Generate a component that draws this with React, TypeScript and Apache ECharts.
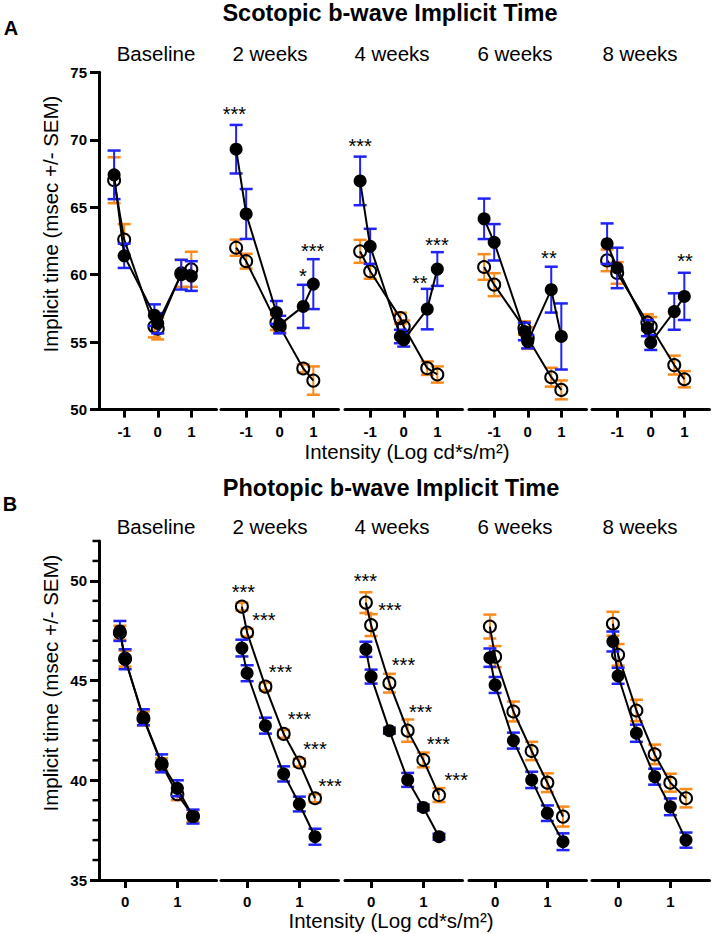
import React, { useEffect, useRef } from 'react';
import * as echarts from 'echarts';

const FONT = '"Liberation Sans", Arial, Helvetica, sans-serif';
const BLUE = '#1f23f5';
const ORANGE = '#f98a1c';

const timepoints = ['Baseline', '2 weeks', '4 weeks', '6 weeks', '8 weeks'];

// Scotopic (panel A)
const scotopicX = [-1.3, -1.0, -0.1, 0, 0.7, 1.0];
const scotopicXTicks = [-1, 0, 1];
const scotopicYTicks = [50, 55, 60, 65, 70, 75];
const scotopicFilledMean = [
  [67.4, 61.4, 57.0, 56.4, 60.0, 59.9],
  [69.3, 64.5, 57.2, 56.3, 57.65, 59.3],
  [66.95, 62.1, 55.42, 55.17, 57.45, 60.42],
  [64.14, 62.4, 55.79, 55.04, 58.89, 55.42],
  [62.3, 60.5, 56.04, 54.97, 57.27, 58.39],
];
const scotopicFilledSem = [
  [1.8, 0.9, 0.8, 0.75, 1.1, 1.1],
  [1.8, 1.85, 0.85, 0.65, 1.6, 1.85],
  [1.8, 1.3, 0.5, 0.5, 1.5, 1.25],
  [1.5, 1.35, 0.65, 0.5, 1.7, 2.45],
  [1.5, 1.5, 0.6, 0.55, 1.35, 1.75],
];
const scotopicOpenMean = [
  [67.0, 62.6, 56.15, 56.0, 60.1, 60.4],
  [62.0, 61.0, 56.45, 56.15, 53.05, 52.15],
  [61.73, 60.25, 56.78, 56.16, 53.07, 52.6],
  [60.57, 59.26, 56.04, 55.3, 52.4, 51.46],
  [61.06, 60.13, 56.46, 56.16, 53.3, 52.25],
];
const scotopicOpenSem = [
  [1.7, 1.15, 0.8, 0.8, 1.0, 1.3],
  [0.6, 0.55, 0.55, 0.4, 0.3, 1.05],
  [0.85, 0.55, 0.4, 0.45, 0.5, 0.6],
  [0.95, 0.85, 0.5, 0.8, 0.7, 0.7],
  [0.8, 0.8, 0.6, 0.7, 0.7, 0.6],
];
// [timepoint index, x, y, text]
const scotopicStars: [number, number, number, string][] = [
  [1, -1.35, 72.26, '***'],
  [1, 0.69, 60.25, '*'],
  [1, 0.98, 62.15, '***'],
  [2, -1.3, 69.88, '***'],
  [2, 0.48, 59.78, '**'],
  [2, 0.99, 62.6, '***'],
  [3, 0.63, 61.6, '**'],
  [4, 1.02, 61.36, '**'],
];

// Photopic (panel B)
const photopicX = [-0.1, 0, 0.35, 0.7, 1.0, 1.3];
const photopicXTicks = [0, 1];
const photopicYTicks = [35, 40, 45, 50];
const photopicYMinorTicks = [36, 37, 38, 39, 41, 42, 43, 44, 46, 47, 48, 49, 51, 52];
const photopicFilledMean = [
  [47.49, 46.07, 43.16, 40.85, 39.6, 38.18],
  [46.63, 45.37, 42.74, 40.32, 38.81, 37.17],
  [46.57, 45.2, 42.49, 40.02, 38.64, 37.17],
  [46.15, 44.78, 41.99, 40.02, 38.35, 36.92],
  [46.96, 45.24, 42.36, 40.18, 38.67, 37.0],
];
const photopicFilledSem = [
  [0.5, 0.5, 0.4, 0.45, 0.4, 0.35],
  [0.42, 0.4, 0.4, 0.38, 0.37, 0.4],
  [0.38, 0.35, 0.15, 0.35, 0.15, 0.15],
  [0.46, 0.4, 0.4, 0.41, 0.39, 0.42],
  [0.5, 0.4, 0.43, 0.4, 0.42, 0.38],
];
const photopicOpenMean = [
  [47.4, 46.1, 43.1, 40.8, 39.3, 38.2],
  [48.71, 47.41, 44.7, 42.33, 40.89, 39.1],
  [48.91, 47.78, 44.87, 42.49, 41.02, 39.26],
  [47.71, 46.2, 43.45, 41.47, 39.88, 38.18],
  [47.85, 46.29, 43.5, 41.3, 39.88, 39.1],
];
const photopicOpenSem = [
  [0.35, 0.4, 0.35, 0.3, 0.3, 0.3],
  [0.2, 0.2, 0.2, 0.2, 0.2, 0.2],
  [0.52, 0.55, 0.47, 0.56, 0.37, 0.35],
  [0.6, 0.53, 0.5, 0.46, 0.47, 0.5],
  [0.6, 0.54, 0.54, 0.49, 0.45, 0.46],
];
const photopicStars: [number, number, number, string][] = [
  [1, -0.07, 49.69, '***'],
  [1, 0.32, 48.3, '***'],
  [1, 0.64, 45.7, '***'],
  [1, 1.0, 43.33, '***'],
  [1, 1.3, 41.82, '***'],
  [1, 1.59, 39.98, '***'],
  [2, -0.11, 50.22, '***'],
  [2, 0.36, 48.8, '***'],
  [2, 0.62, 46.04, '***'],
  [2, 0.95, 43.7, '***'],
  [2, 1.29, 42.06, '***'],
  [2, 1.63, 40.27, '***'],
];

const GRID_LEFTS = [99, 221, 345, 469, 592];
const GRID_WIDTH = 117.5;
const SUBTITLE_X = [156, 270, 392, 515, 640];

function buildGraphicTexts() {
  const txt = (text: string, x: number, y: number, font: string, extra: any = {}) => ({
    type: 'text', x, y, silent: true, ...extra,
    style: { text, font, fill: '#000', textAlign: 'center', textVerticalAlign: 'middle', align: 'center', verticalAlign: 'middle' },
  });
  const graphic: any[] = [
    txt('Scotopic b-wave Implicit Time', 390, 13, `bold 23.5px ${FONT}`),
    txt('Photopic b-wave Implicit Time', 391, 488, `bold 23.5px ${FONT}`),
    txt('A', 11, 28, `bold 20px ${FONT}`),
    txt('B', 10, 504, `bold 20px ${FONT}`),
    txt('Implicit time (msec +/- SEM)', 50, 224, `20.5px ${FONT}`, { rotation: Math.PI / 2 }),
    txt('Implicit time (msec +/- SEM)', 50, 683, `20.5px ${FONT}`, { rotation: Math.PI / 2 }),
    txt('Intensity (Log cd*s/m²)', 407, 451, `20.5px ${FONT}`),
    txt('Intensity (Log cd*s/m²)', 391, 920, `20.5px ${FONT}`),
  ];
  timepoints.forEach((t, i) => {
    graphic.push(txt(t, SUBTITLE_X[i], 53, `20.5px ${FONT}`));
    graphic.push(txt(t, SUBTITLE_X[i], 526, `20.5px ${FONT}`));
  });
  return graphic;
}

function buildOption() {
  const grid: any[] = [];
  const xAxis: any[] = [];
  const yAxis: any[] = [];
  const series: any[] = [];

  const panels = [
    {
      top: 72.3, height: 337.3, xMin: -1.75, xMax: 1.75, yMin: 50, yMax: 75,
      xs: scotopicX, xTicks: scotopicXTicks, yTicks: scotopicYTicks,
      fm: scotopicFilledMean, fs: scotopicFilledSem, om: scotopicOpenMean, os: scotopicOpenSem,
      stars: scotopicStars,
    },
    {
      top: 541, height: 339, xMin: -0.5, xMax: 1.75, yMin: 35, yMax: 52,
      xs: photopicX, xTicks: photopicXTicks, yTicks: photopicYTicks,
      fm: photopicFilledMean, fs: photopicFilledSem, om: photopicOpenMean, os: photopicOpenSem,
      stars: photopicStars,
    },
  ];

  const errorBar = (g: number, xs: number[], means: number[], sems: number[], color: string, z: number) => ({
    type: 'custom',
    xAxisIndex: g,
    yAxisIndex: g,
    z,
    silent: true,
    data: xs.map((x, i) => [x, means[i], sems[i]]),
    encode: { x: 0, y: 1 },
    renderItem: (params: any, api: any) => {
      const x = api.value(0);
      const m = api.value(1);
      const s = api.value(2);
      const t = api.coord([x, m + s]);
      const b = api.coord([x, m - s]);
      const hw = 6.5;
      return {
        type: 'group',
        children: [
          { type: 'line', shape: { x1: t[0], y1: t[1], x2: b[0], y2: b[1] }, style: { stroke: color, lineWidth: 2 } },
          { type: 'line', shape: { x1: t[0] - hw, y1: t[1], x2: t[0] + hw, y2: t[1] }, style: { stroke: color, lineWidth: 2.5 } },
          { type: 'line', shape: { x1: b[0] - hw, y1: b[1], x2: b[0] + hw, y2: b[1] }, style: { stroke: color, lineWidth: 2.5 } },
        ],
      };
    },
  });

  panels.forEach((p, pi) => {
    for (let i = 0; i < 5; i++) {
      const g = pi * 5 + i;
      grid.push({ left: GRID_LEFTS[i], width: GRID_WIDTH, top: p.top, height: p.height, outerBoundsMode: 'none', containLabel: false });
      xAxis.push({
        type: 'value', gridIndex: g, min: p.xMin, max: p.xMax, position: 'bottom',
        axisLine: { show: true, onZero: false, lineStyle: { color: '#000', width: 3 } },
        axisTick: { show: true, customValues: p.xTicks, length: 8, lineStyle: { color: '#000', width: 3 } },
        axisLabel: { show: true, customValues: p.xTicks, margin: 14, color: '#000', fontWeight: 'bold', fontSize: 15, fontFamily: FONT },
        splitLine: { show: false },
      });
      if (i === 0) {
        yAxis.push({
          type: 'value', gridIndex: g, min: p.yMin, max: p.yMax, position: 'left',
          axisLine: { show: true, onZero: false, lineStyle: { color: '#000', width: 3 } },
          axisTick: { show: true, customValues: p.yTicks, length: 9, lineStyle: { color: '#000', width: 3 } },
          axisLabel: { show: true, customValues: p.yTicks, margin: 12, color: '#000', fontWeight: 'bold', fontSize: 15, fontFamily: FONT },
          splitLine: { show: false },
        });
      } else {
        yAxis.push({ type: 'value', gridIndex: g, min: p.yMin, max: p.yMax, show: false, axisLine: { onZero: false }, splitLine: { show: false } });
      }

      series.push(errorBar(g, p.xs, p.om[i], p.os[i], ORANGE, 2));
      series.push({
        type: 'line', xAxisIndex: g, yAxisIndex: g, z: 3, silent: true, clip: false,
        data: p.xs.map((x, k) => [x, p.om[i][k]]),
        symbol: 'circle', symbolSize: 12, showSymbol: true,
        itemStyle: { color: 'rgba(0,0,0,0)', borderColor: '#000', borderWidth: 2 },
        lineStyle: { color: '#000', width: 2 },
        emphasis: { disabled: true },
      });
      series.push(errorBar(g, p.xs, p.fm[i], p.fs[i], BLUE, 4));
      series.push({
        type: 'line', xAxisIndex: g, yAxisIndex: g, z: 5, silent: true, clip: false,
        data: p.xs.map((x, k) => [x, p.fm[i][k]]),
        symbol: 'circle', symbolSize: 13, showSymbol: true,
        itemStyle: { color: '#000', borderWidth: 0 },
        lineStyle: { color: '#000', width: 2 },
        emphasis: { disabled: true },
      });
      const st = p.stars.filter((s) => s[0] === i);
      if (st.length) {
        series.push({
          type: 'custom', xAxisIndex: g, yAxisIndex: g, z: 10, silent: true,
          data: st.map((s) => [s[1], s[2]]),
          encode: { x: 0, y: 1 },
          renderItem: (params: any, api: any) => {
            const pt = api.coord([api.value(0), api.value(1)]);
            return {
              type: 'text',
              x: pt[0],
              y: pt[1] + 5,
              style: {
                text: st[params.dataIndex][3], fill: '#000', font: `20px ${FONT}`,
                textAlign: 'center', textVerticalAlign: 'middle', align: 'center', verticalAlign: 'middle',
              },
            };
          },
        });
      }
    }
  });

  return {
    animation: false,
    backgroundColor: '#fff',
    grid,
    xAxis,
    yAxis,
    series,
    graphic: buildGraphicTexts(),
  };
}

export default function App() {
  const ref = useRef<HTMLDivElement>(null);
  useEffect(() => {
    document.body.style.margin = '0';
    const chart = echarts.init(ref.current!, null, { renderer: 'svg' });
    chart.setOption(buildOption() as any);
    // minor ticks of the photopic y axis: y position from the axis scale
    const ticks: any[] = [];
    const axisX = GRID_LEFTS[0];
    photopicYMinorTicks.forEach((v) => {
      let y: any = null;
      try {
        y = chart.convertToPixel({ yAxisIndex: 5 } as any, v);
      } catch (e) {
        y = null;
      }
      if (Array.isArray(y)) y = y[1];
      if (typeof y === 'number' && isFinite(y)) {
        ticks.push({
          type: 'rect', silent: true, z: 100,
          shape: { x: axisX - 6.5, y: y - 1.25, width: 6.5, height: 2.5 },
          style: { fill: '#000' },
        });
      }
    });
    if (ticks.length) {
      chart.setOption({ graphic: [...buildGraphicTexts(), ...ticks] } as any);
    }
    return () => chart.dispose();
  }, []);
  return <div ref={ref} style={{ width: 712, height: 934 }} />;
}
